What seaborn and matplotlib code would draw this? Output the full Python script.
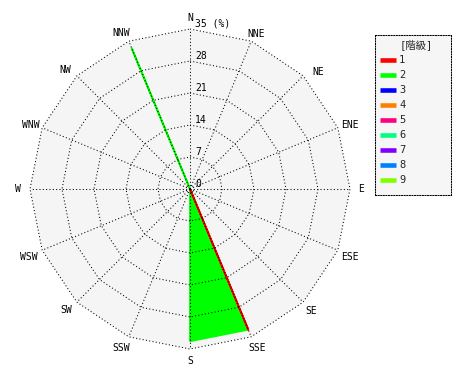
import numpy as np
import pandas as pd
import matplotlib
matplotlib.use("Agg")
import matplotlib.pyplot as plt
import seaborn as sns

# ---------------- data ----------------
directions = ["N", "NNE", "NE", "ENE", "E", "ESE", "SE", "SSE",
              "S", "SSW", "SW", "WSW", "W", "WNW", "NW", "NNW"]
ring_values = [0, 7, 14, 21, 28, 35]
ring_labels = ["0", "7", "14", "21", "28", "35 (%)"]

class_names = ["1", "2", "3", "4", "5", "6", "7", "8", "9"]
class_colors = ["#ff0000", "#00ff00", "#0000ff", "#ff8000", "#ff0080",
                "#00ff80", "#8000ff", "#0080ff", "#80ff00"]

#                 N  NNE NE ENE E ESE SE  SSE   S    SSW SW WSW W WNW NW NNW
class_1_values = [0, 0, 0, 0, 0, 0, 0, 33.3, 0, 0, 0, 0, 0, 0, 0, 0]
class_2_values = [0, 0, 0, 0, 0, 0, 0, 33.3, 33.3, 0, 0, 0, 0, 0, 0, 33.3]
class_3_values = [0] * 16
class_4_values = [0] * 16
class_5_values = [0] * 16
class_6_values = [0] * 16
class_7_values = [0] * 16
class_8_values = [0] * 16
class_9_values = [0] * 16
class_values = [class_1_values, class_2_values, class_3_values, class_4_values,
                class_5_values, class_6_values, class_7_values, class_8_values,
                class_9_values]

# label offsets (pixels, x right / y down) from each outer vertex
label_offsets = [(0, -11), (5, -7), (15, -3.5), (12, -3), (11.5, 0), (12, 7),
                 (8.5, 8.5), (6, 11), (0, 12), (-8, 11), (-11, 8), (-13, 7),
                 (-12.5, 0), (-11, -3), (-12, -5.5), (-7.5, -8.5)]

# ---------------- style ----------------
sns.set_style("white")
plt.rcParams['font.family'] = ['DejaVu Sans Mono', 'Noto Sans CJK JP']

W, H, DPI = 470, 380, 100
fig = plt.figure(figsize=(W / DPI, H / DPI), dpi=DPI)
fig.patch.set_facecolor("white")

s = 160 / 35.0  # pixels per percent
ax = fig.add_axes([0, 0, 380 / W, 1])
ax.set_xlim(-190 / s, 190 / s)
ax.set_ylim(-191 / s, 189 / s)
ax.axis("off")

theta = np.deg2rad(np.arange(16) * 22.5)
sx, sy = np.sin(theta), np.cos(theta)
rmax = ring_values[-1]

# background
ax.fill(np.append(rmax * sx, rmax * sx[0]), np.append(rmax * sy, rmax * sy[0]),
        facecolor="#f5f5f5", edgecolor="none", zorder=0)

# data polygons (drawn from the last class to the first)
for name, color, vals in reversed(list(zip(class_names, class_colors, class_values))):
    v = np.asarray(vals, dtype=float)
    if not v.any():
        continue
    px = np.append(v * sx, v[0] * sx[0])
    py = np.append(v * sy, v[0] * sy[0])
    ax.fill(px, py, facecolor=color, edgecolor="none", zorder=2)
    df = pd.DataFrame({"x": px, "y": py})
    sns.lineplot(data=df, x="x", y="y", sort=False, estimator=None,
                 color=color, lw=1.3, ax=ax, zorder=2.5)

# grid
dot = (0, (1, 2.2))
for r in ring_values[1:]:
    ax.plot(np.append(r * sx, r * sx[0]), np.append(r * sy, r * sy[0]),
            color="black", lw=0.75, ls=dot, zorder=3)
for i in range(16):
    ax.plot([0, rmax * sx[i]], [0, rmax * sy[i]], color="black", lw=0.75,
            ls=dot, zorder=3)

ax.set_xlabel("")
ax.set_ylabel("")

# ring labels
for r, lab in zip(ring_values, ring_labels):
    ax.annotate(lab, xy=(0, r), xytext=(3.6, 0.3), textcoords="offset points",
                ha="left", va="bottom", fontsize=7, color="black", zorder=4)

# direction labels
for i, d in enumerate(directions):
    dx, dy = label_offsets[i]
    ax.annotate(d, xy=(rmax * sx[i], rmax * sy[i]),
                xytext=(dx * 0.72, -dy * 0.72), textcoords="offset points",
                ha="center", va="center", fontsize=7, color="black")

# ---------------- legend ----------------
lx0, ly0, lw_, lh_ = 375, 35, 76, 160
lax = fig.add_axes([lx0 / W, (H - ly0 - lh_) / H, lw_ / W, lh_ / H])
lax.set_xlim(0, lw_)
lax.set_ylim(lh_, 0)
lax.set_xticks([])
lax.set_yticks([])
lax.set_facecolor("#f6f6f6")
for sp in lax.spines.values():
    sp.set_visible(True)
    sp.set_linestyle((0, (1, 1.5)))
    sp.set_linewidth(0.75)
    sp.set_color("black")
lax.text(41, 9.5, "[階級]", ha="center", va="center", fontsize=7.5,
         family=['DejaVu Sans Mono', 'Noto Sans CJK JP'])
for i, (name, color) in enumerate(zip(class_names, class_colors)):
    yy = 25 + 15 * i
    lax.plot([5, 21], [yy, yy], color=color, lw=3.3, solid_capstyle="butt")
    lax.text(24, yy, name, ha="left", va="center", fontsize=7.5)

fig.savefig("out.png", dpi=DPI, facecolor="white")
